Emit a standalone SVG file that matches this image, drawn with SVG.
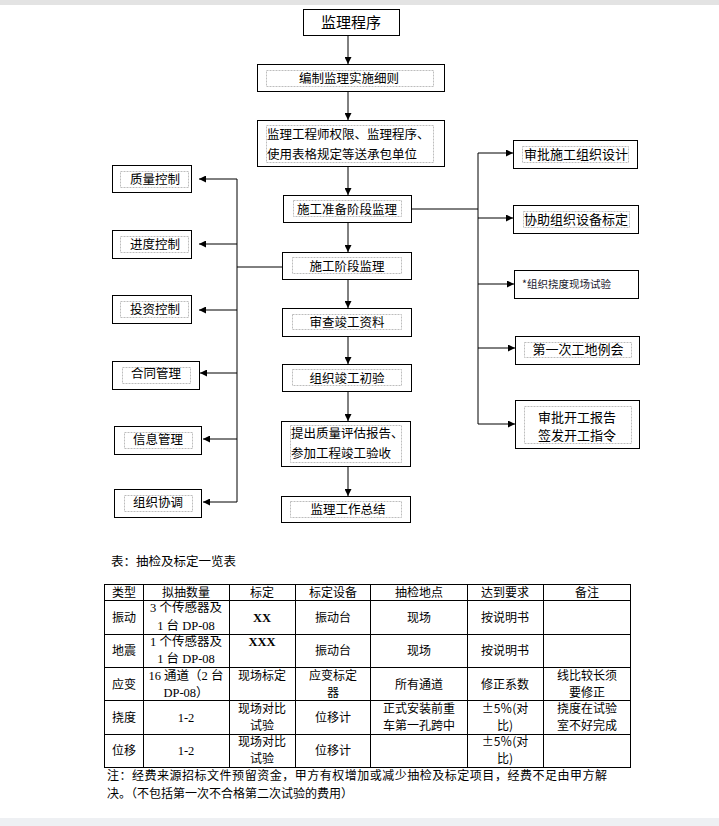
<svg xmlns="http://www.w3.org/2000/svg" width="719" height="826" viewBox="0 0 719 826">
<style>
text{font-family:"Noto Sans CJK SC","Noto Sans",sans-serif;fill:#000;}
.b{fill:#fff;stroke:#000;stroke-width:1;}
.d{fill:none;stroke:#bdbdbd;stroke-width:1;stroke-dasharray:2,1;}
.t{font-size:12.5px;text-anchor:middle;}
.tl{font-size:12.5px;}
.r{font-size:13px;text-anchor:middle;}
.c{stroke:#000;stroke-width:1;fill:none;}
.a{stroke:#000;stroke-width:1;fill:none;marker-end:url(#ah);}
.tb{font-size:12px;text-anchor:middle;}
.sf{font-family:"Liberation Serif","Noto Sans CJK SC",serif;font-size:12.5px;text-anchor:middle;}
.x{font-family:"Liberation Serif",serif;font-weight:bold;font-size:12.5px;text-anchor:middle;}
.g{stroke:#000;stroke-width:1;fill:none;}
.n{font-size:12px;}
</style>
<defs>
<marker id="ah" markerUnits="userSpaceOnUse" markerWidth="8" markerHeight="7" refX="7" refY="3.5" orient="auto">
<path d="M0,0 L7,3.5 L0,7 z" fill="#000"/>
</marker>
</defs>
<rect x="0" y="0" width="719" height="826" fill="#fff"/>
<rect x="0" y="0" width="719" height="5" fill="#e3e3e3"/>
<rect x="0" y="818" width="719" height="8" fill="#eef0f3"/>

<g id="connectors">
<line class="a" x1="348" y1="36" x2="348" y2="64"/>
<line class="a" x1="348" y1="92" x2="348" y2="120"/>
<line class="a" x1="348" y1="167" x2="348" y2="195"/>
<line class="a" x1="348" y1="223" x2="348" y2="252"/>
<line class="a" x1="348" y1="280" x2="348" y2="308"/>
<line class="a" x1="348" y1="337" x2="348" y2="364"/>
<line class="a" x1="348" y1="392" x2="348" y2="421"/>
<line class="a" x1="348" y1="467" x2="348" y2="496"/>
<line class="c" x1="412" y1="209" x2="478" y2="209"/>
<line class="c" x1="478" y1="153" x2="478" y2="424"/>
<line class="a" x1="478" y1="153" x2="513" y2="153"/>
<line class="a" x1="478" y1="218" x2="513" y2="218"/>
<line class="a" x1="478" y1="284" x2="514" y2="284"/>
<line class="a" x1="478" y1="348" x2="515" y2="348"/>
<line class="a" x1="478" y1="424" x2="515" y2="424"/>
<line class="c" x1="282" y1="267" x2="237" y2="267"/>
<line class="c" x1="237" y1="179" x2="237" y2="502"/>
<line class="a" x1="237" y1="179" x2="199" y2="179"/>
<line class="a" x1="237" y1="244" x2="199" y2="244"/>
<line class="a" x1="237" y1="310" x2="199" y2="310"/>
<line class="a" x1="237" y1="373" x2="200" y2="373"/>
<line class="a" x1="237" y1="439" x2="203" y2="439"/>
<line class="a" x1="237" y1="502" x2="203" y2="502"/>
</g>

<g id="n1"><rect class="b" x="303.5" y="9.5" width="96" height="26"/><text x="351" y="28" style="font-size:15px;text-anchor:middle">监理程序</text></g>
<g id="n2"><rect class="b" x="257.5" y="64.5" width="187" height="27"/><rect class="d" x="266.5" y="70.5" width="167" height="16"/><text class="t" x="349" y="83">编制监理实施细则</text></g>
<g id="n3"><rect class="b" x="257.5" y="120.5" width="187" height="46"/><rect class="d" x="266.5" y="125.5" width="167" height="37"/><text class="tl" x="267" y="139">监理工程师权限、监理程序、</text><text class="tl" x="267" y="159">使用表格规定等送承包单位</text></g>
<g id="n4"><rect class="b" x="283.5" y="195.5" width="128" height="27"/><rect class="d" x="293.5" y="200.5" width="108" height="16"/><text class="t" x="347" y="214">施工准备阶段监理</text></g>
<g id="n5"><rect class="b" x="282.5" y="252.5" width="129" height="27"/><rect class="d" x="292.5" y="257.5" width="109" height="16"/><text class="t" x="347" y="271">施工阶段监理</text></g>
<g id="n6"><rect class="b" x="282.5" y="308.5" width="129" height="28"/><rect class="d" x="292.5" y="314.5" width="109" height="15"/><text class="t" x="347" y="327">审查竣工资料</text></g>
<g id="n7"><rect class="b" x="282.5" y="364.5" width="129" height="27"/><rect class="d" x="292.5" y="369.5" width="109" height="16"/><text class="t" x="347" y="383">组织竣工初验</text></g>
<g id="n8"><rect class="b" x="281.5" y="421.5" width="129" height="45"/><rect class="d" x="290.5" y="425.5" width="111" height="37"/><text class="tl" x="291" y="438">提出质量评估报告、</text><text class="tl" x="291" y="458">参加工程竣工验收</text></g>
<g id="n9"><rect class="b" x="281.5" y="496.5" width="129" height="26"/><rect class="d" x="290.5" y="501.5" width="111" height="16"/><text class="t" x="348" y="514">监理工作总结</text></g>

<g id="l1"><rect class="b" x="112.5" y="165.5" width="79" height="27"/><rect class="d" x="120.5" y="171.5" width="68" height="16"/><text class="t" x="155" y="184">质量控制</text></g>
<g id="l2"><rect class="b" x="112.5" y="230.5" width="79" height="28"/><rect class="d" x="120.5" y="236.5" width="68" height="16"/><text class="t" x="155" y="249">进度控制</text></g>
<g id="l3"><rect class="b" x="112.5" y="295.5" width="79" height="28"/><rect class="d" x="120.5" y="301.5" width="68" height="16"/><text class="t" x="155" y="314">投资控制</text></g>
<g id="l4"><rect class="b" x="112.5" y="361.5" width="87" height="28"/><rect class="d" x="122.5" y="367.5" width="68" height="16"/><text class="t" x="156" y="378">合同管理</text></g>
<g id="l5"><rect class="b" x="114.5" y="426.5" width="87" height="28"/><rect class="d" x="124.5" y="432.5" width="68" height="16"/><text class="t" x="158" y="444">信息管理</text></g>
<g id="l6"><rect class="b" x="114.5" y="489.5" width="87" height="28"/><rect class="d" x="124.5" y="495.5" width="68" height="16"/><text class="t" x="158" y="507">组织协调</text></g>

<g id="r1"><rect class="b" x="513.5" y="140.5" width="124" height="28"/><rect class="d" x="522.5" y="146.5" width="106" height="16"/><text class="r" x="576" y="159">审批施工组织设计</text></g>
<g id="r2"><rect class="b" x="513.5" y="205.5" width="125" height="28"/><rect class="d" x="523.5" y="211.5" width="106" height="16"/><text class="r" x="576" y="224">协助组织设备标定</text></g>
<g id="r3"><rect class="b" x="514.5" y="270.5" width="124" height="28"/><text x="522" y="288" style="font-size:10.5px;fill:#1a1a2e">*组织挠度现场试验</text></g>
<g id="r4"><rect class="b" x="515.5" y="336.5" width="124" height="28"/><rect class="d" x="524.5" y="342.5" width="107" height="15"/><text class="r" x="578" y="354">第一次工地例会</text></g>
<g id="r5"><rect class="b" x="515.5" y="400.5" width="124" height="48"/><rect class="d" x="524.5" y="406.5" width="107" height="37"/><text class="r" x="577" y="422">审批开工报告</text><text class="r" x="577" y="440">签发开工指令</text></g>

<g id="caption"><text class="tl" x="111" y="566">表：抽检及标定一览表</text></g>

<g id="table">
<rect class="g" x="104.5" y="584.5" width="526" height="183"/>
<line class="g" x1="104" y1="600.5" x2="631" y2="600.5"/>
<line class="g" x1="104" y1="634.5" x2="631" y2="634.5"/>
<line class="g" x1="104" y1="667.5" x2="631" y2="667.5"/>
<line class="g" x1="104" y1="700.5" x2="631" y2="700.5"/>
<line class="g" x1="104" y1="734.5" x2="631" y2="734.5"/>
<line class="g" x1="143.5" y1="584" x2="143.5" y2="768"/>
<line class="g" x1="229.5" y1="584" x2="229.5" y2="768"/>
<line class="g" x1="295.5" y1="584" x2="295.5" y2="768"/>
<line class="g" x1="370.5" y1="584" x2="370.5" y2="768"/>
<line class="g" x1="467.5" y1="584" x2="467.5" y2="768"/>
<line class="g" x1="543.5" y1="584" x2="543.5" y2="768"/>

<text class="tb" x="124" y="597">类型</text>
<text class="tb" x="186" y="597">拟抽数量</text>
<text class="tb" x="262" y="597">标定</text>
<text class="tb" x="333" y="597">标定设备</text>
<text class="tb" x="419" y="597">抽检地点</text>
<text class="tb" x="505" y="597">达到要求</text>
<text class="tb" x="587" y="597">备注</text>

<text class="tb" x="124" y="622">振动</text>
<text class="sf" x="186" y="612">3 个传感器及</text>
<text class="sf" x="186" y="630">1 台 DP-08</text>
<text class="x" x="262" y="622">XX</text>
<text class="tb" x="333" y="622">振动台</text>
<text class="tb" x="419" y="622">现场</text>
<text class="tb" x="505" y="622">按说明书</text>

<text class="tb" x="124" y="655">地震</text>
<text class="sf" x="186" y="646">1 个传感器及</text>
<text class="sf" x="186" y="663">1 台 DP-08</text>
<text class="x" x="262" y="646">XXX</text>
<text class="tb" x="333" y="655">振动台</text>
<text class="tb" x="419" y="655">现场</text>
<text class="tb" x="505" y="655">按说明书</text>

<text class="tb" x="124" y="689">应变</text>
<text class="sf" x="186" y="680">16 通道（2 台</text>
<text class="sf" x="186" y="697">DP-08）</text>
<text class="tb" x="262" y="680">现场标定</text>
<text class="tb" x="333" y="680">应变标定</text>
<text class="tb" x="333" y="697">器</text>
<text class="tb" x="419" y="689">所有通道</text>
<text class="tb" x="505" y="689">修正系数</text>
<text class="tb" x="587" y="680">线比较长须</text>
<text class="tb" x="587" y="697">要修正</text>

<text class="tb" x="124" y="722">挠度</text>
<text class="sf" x="186" y="722">1-2</text>
<text class="tb" x="262" y="713">现场对比</text>
<text class="tb" x="262" y="730">试验</text>
<text class="tb" x="333" y="722">位移计</text>
<text class="tb" x="419" y="713">正式安装前重</text>
<text class="tb" x="419" y="730">车第一孔跨中</text>
<text class="tb" x="505" y="713">±5％(对</text>
<text class="tb" x="505" y="730">比)</text>
<text class="tb" x="587" y="713">挠度在试验</text>
<text class="tb" x="587" y="730">室不好完成</text>

<text class="tb" x="124" y="755">位移</text>
<text class="sf" x="186" y="755">1-2</text>
<text class="tb" x="262" y="746">现场对比</text>
<text class="tb" x="262" y="763">试验</text>
<text class="tb" x="333" y="755">位移计</text>
<text class="tb" x="505" y="746">±5％(对</text>
<text class="tb" x="505" y="763">比)</text>
</g>

<g id="note">
<text class="n" x="107" y="780" textLength="500" lengthAdjust="spacing">注：经费来源招标文件预留资金，甲方有权增加或减少抽检及标定项目，经费不足由甲方解</text>
<text class="n" x="107" y="798">决。（不包括第一次不合格第二次试验的费用）</text>
</g>
</svg>
